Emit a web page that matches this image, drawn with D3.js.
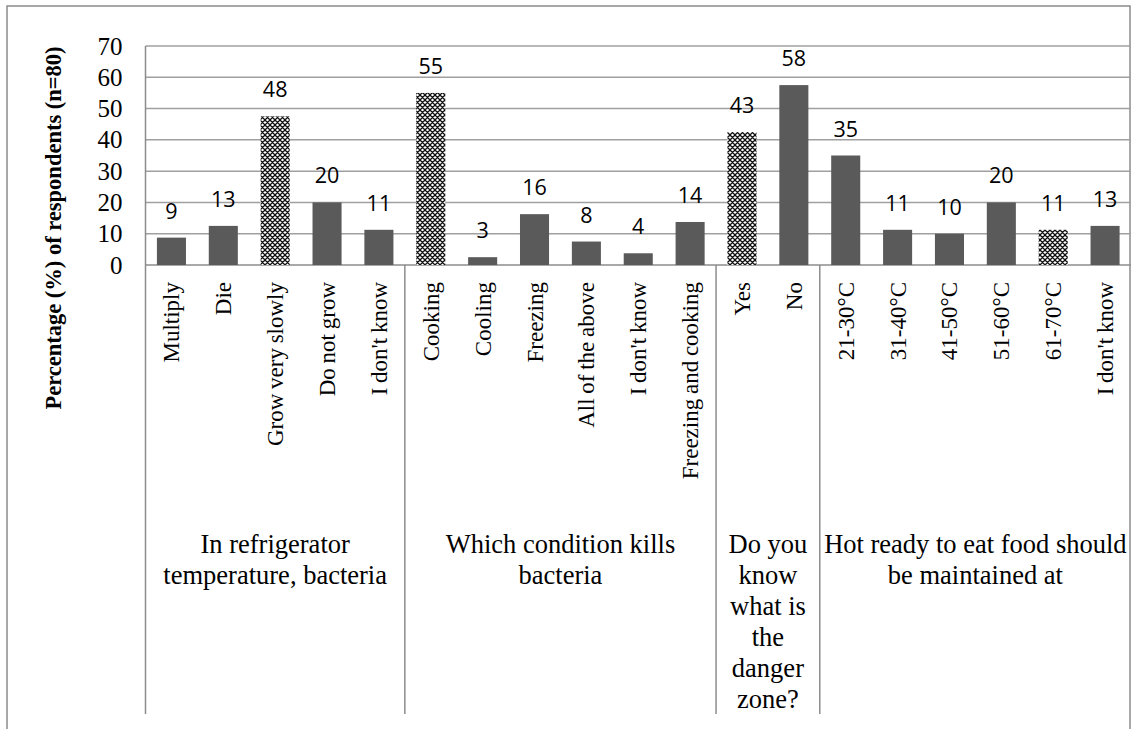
<!DOCTYPE html>
<html>
<head>
<meta charset="utf-8">
<script src="https://cdn.jsdelivr.net/npm/d3@7"></script>
<style>
  html, body { margin: 0; padding: 0; background: #fff; }
  svg { display: block; }
  .serif { font-family: "Liberation Serif", "Times New Roman", serif; }
</style>
</head>
<body>
<svg id="chart" width="1132" height="729"></svg>
<script>
// Food safety knowledge survey, n = 80 respondents
const categories = [
  "Multiply", "Die", "Grow very slowly", "Do not grow", "I don't know",
  "Cooking", "Cooling", "Freezing", "All of the above", "I don't know", "Freezing and cooking",
  "Yes", "No",
  "21-30°C", "31-40°C", "41-50°C", "51-60°C", "61-70°C", "I don't know"
];
const percentages = [
  8.75, 12.5, 47.5, 20, 11.25,
  55, 2.5, 16.25, 7.5, 3.75, 13.75,
  42.5, 57.5,
  35, 11.25, 10, 20, 11.25, 12.5
];
// Bars for the correct answer of each question get the checker fill
const correctAnswer = [
  false, false, true, false, false,
  true, false, false, false, false, false,
  true, false,
  false, false, false, false, true, false
];
const groupSizes = [5, 6, 2, 6];
const groupLabels = [
  ["In refrigerator", "temperature, bacteria"],
  ["Which condition kills", "bacteria"],
  ["Do you", "know", "what is", "the", "danger", "zone?"],
  ["Hot ready to eat food should", "be maintained at"]
];
const yTicks = [0, 10, 20, 30, 40, 50, 60, 70];
const yTitle = "Percentage (%) of respondents (n=80)";

const svg = d3.select("#chart");
const sans = "'Open Sans', 'Liberation Sans', sans-serif";
const lineCol = "#8c8c8c";
const gridCol = "#a0a0a0";
const barCol = "#5a5a5a";

const plot = { left: 145.5, right: 1131, top: 46, bottom: 265, axisEnd: 714 };

// Checker fill for highlighted bars
const defs = svg.append("defs");
const pat = defs.append("pattern")
  .attr("id", "checker")
  .attr("width", 5).attr("height", 5)
  .attr("patternUnits", "userSpaceOnUse");
pat.append("rect").attr("width", 5).attr("height", 5).attr("fill", "#fff");
pat.append("path")
  .attr("d", "M0,0L5,5M5,0L0,5M-1,4L1,6M4,-1L6,1M-1,1L1,-1M4,6L6,4")
  .attr("stroke", "#111").attr("stroke-width", 1.3).attr("fill", "none");

// Outer frame
svg.append("rect")
  .attr("x", 7).attr("y", 6)
  .attr("width", 1123).attr("height", 760)
  .attr("fill", "none").attr("stroke", lineCol).attr("stroke-width", 1.5);

const idx = d3.range(categories.length);
const x = d3.scaleBand()
  .domain(idx)
  .range([plot.left, plot.right])
  .paddingInner(0.44)
  .paddingOuter(0.22);
const y = d3.scaleLinear().domain([0, 70]).range([plot.bottom, plot.top]);

// Horizontal gridlines
svg.append("g")
  .selectAll("line")
  .data(yTicks)
  .join("line")
  .attr("x1", plot.left).attr("x2", plot.right)
  .attr("y1", d => y(d)).attr("y2", d => y(d))
  .attr("stroke", d => d === 0 ? lineCol : gridCol)
  .attr("stroke-width", 1.5);

// Y axis labels
const yAxis = svg.append("g")
  .attr("transform", `translate(${plot.left},0)`)
  .call(d3.axisLeft(y).tickValues(yTicks).tickSize(0).tickPadding(23).tickFormat(d3.format("d")));
yAxis.select(".domain").remove();
yAxis.attr("font-family", null).attr("font-size", null);
yAxis.selectAll("text")
  .attr("class", "serif")
  .style("font-size", "25px")
  .attr("fill", "#000");

// Left axis line, running down through the category label area
svg.append("line")
  .attr("x1", plot.left).attr("x2", plot.left)
  .attr("y1", plot.top).attr("y2", plot.axisEnd)
  .attr("stroke", lineCol).attr("stroke-width", 1.5);

// Group separators
let acc = 0;
const bounds = [];
groupSizes.forEach(n => { bounds.push([acc, acc + n]); acc += n; });
svg.append("g")
  .selectAll("line")
  .data(bounds.slice(0, -1))
  .join("line")
  .attr("x1", d => plot.left + d[1] * x.step())
  .attr("x2", d => plot.left + d[1] * x.step())
  .attr("y1", plot.bottom).attr("y2", plot.axisEnd)
  .attr("stroke", lineCol).attr("stroke-width", 1.5);

// Bars
svg.append("g")
  .selectAll("rect")
  .data(idx)
  .join("rect")
  .attr("x", i => x(i))
  .attr("width", x.bandwidth())
  .attr("y", i => y(percentages[i]))
  .attr("height", i => y(0) - y(percentages[i]))
  .attr("fill", i => correctAnswer[i] ? "url(#checker)" : barCol);

// Value labels
svg.append("g")
  .selectAll("text")
  .data(idx)
  .join("text")
  .attr("x", i => x(i) + x.bandwidth() / 2)
  .attr("y", i => y(percentages[i]) - 19)
  .attr("text-anchor", "middle")
  .attr("font-family", sans)
  .attr("font-size", 21.5)
  .attr("fill", "#000")
  .text(i => Math.round(percentages[i]));

// Category labels, rotated
svg.append("g")
  .selectAll("text")
  .data(idx)
  .join("text")
  .attr("class", "serif")
  .attr("transform", i => `translate(${x(i) + x.bandwidth() / 2 + 8},282) rotate(-90)`)
  .attr("text-anchor", "end")
  .style("font-size", "23px")
  .style("word-spacing", "-1px")
  .attr("fill", "#000")
  .text(i => categories[i]);

// Question (group) labels
const gl = svg.append("g");
bounds.forEach((b, gi) => {
  const cx = plot.left + (b[0] + b[1]) / 2 * x.step();
  const t = gl.append("text")
    .attr("class", "serif")
    .attr("text-anchor", "middle")
    .style("font-size", "26.5px")
    .attr("fill", "#000");
  groupLabels[gi].forEach((line, li) => {
    t.append("tspan")
      .attr("class", "serif")
      .attr("x", cx)
      .attr("y", 553 + li * 31)
      .text(line);
  });
});

// Y axis title
svg.append("text")
  .attr("class", "serif")
  .attr("transform", "translate(61,228) rotate(-90)")
  .attr("text-anchor", "middle")
  .style("font-weight", "bold")
  .style("font-size", "22.5px")
  .attr("fill", "#000")
  .text(yTitle);
</script>
</body>
</html>
